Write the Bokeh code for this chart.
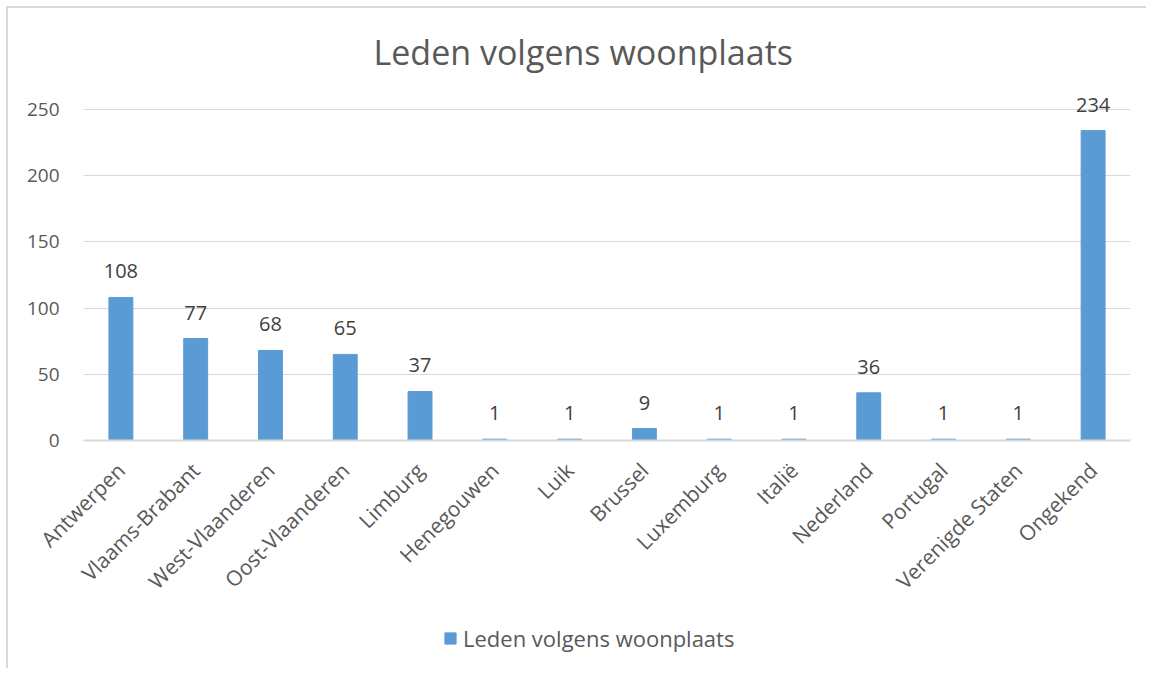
import math
from bokeh.plotting import figure
from bokeh.layouts import column
from bokeh.models import ColumnDataSource, Legend, LegendItem, FixedTicker, Range1d, FactorRange
from bokeh.core.properties import value
from bokeh.embed import file_html
from bokeh.resources import INLINE

categories = ["Antwerpen", "Vlaams-Brabant", "West-Vlaanderen", "Oost-Vlaanderen",
              "Limburg", "Henegouwen", "Luik", "Brussel", "Luxemburg", "Italië",
              "Nederland", "Portugal", "Verenigde Staten", "Ongekend"]
counts = [108, 77, 68, 65, 37, 1, 1, 9, 1, 1, 36, 1, 1, 234]
y_ticks = [0, 50, 100, 150, 200, 250]
series_name = "Leden volgens woonplaats"

FONT = "Open Sans"
BLUE = "#5B9BD5"
GRID = "#D9D9D9"
TXT = "#595959"

src = ColumnDataSource(dict(cat=categories, val=counts, lab=[str(v) for v in counts]))

p = figure(x_range=categories, y_range=Range1d(0, 262), width=1138, height=604,
           output_backend="svg", toolbar_location=None,
           title=series_name,
           min_border_left=75, min_border_right=16, min_border_top=81, min_border_bottom=172)

p.title.align = "left"
p.title.text_font = FONT
p.title.text_font_size = "34px"
p.title.text_font_style = "normal"
p.title.text_color = TXT
p.title.offset = 290
p.title.standoff = 37

r = p.vbar(x="cat", top="val", width=0.32, source=src, color=BLUE)
p.text(x="cat", y="val", text="lab", source=src, text_align="center",
       text_baseline="alphabetic", y_offset=-26, text_font=value(FONT),
       text_font_size="20px", text_color="#404040")

p.outline_line_color = None
p.xgrid.grid_line_color = None
p.ygrid.grid_line_color = GRID
p.ygrid.grid_line_width = 1
p.yaxis.ticker = FixedTicker(ticks=y_ticks)
p.yaxis.axis_line_color = None
p.yaxis.major_tick_line_color = None
p.yaxis.minor_tick_line_color = None
p.yaxis.major_label_standoff = 18
p.yaxis.major_label_text_font = FONT
p.yaxis.major_label_text_font_size = "19px"
p.yaxis.major_label_text_color = TXT

p.xaxis.axis_line_color = GRID
p.xaxis.axis_line_width = 2
p.xaxis.major_tick_line_color = None
p.xaxis.minor_tick_line_color = None
p.xaxis.major_label_orientation = math.pi / 4
p.xaxis.major_label_standoff = 20
p.xaxis.major_label_text_font = FONT
p.xaxis.major_label_text_font_size = "21px"
p.xaxis.major_label_text_color = TXT
p.x_range.range_padding = 0

# legend strip below the chart (hidden proxy renderer supplies the legend swatch)
lg = figure(width=1138, height=56, output_backend="svg", toolbar_location=None,
            x_range=FactorRange(*categories), y_range=Range1d(-1001, -1000),
            x_axis_type=None, y_axis_type=None,
            min_border_left=0, min_border_right=0, min_border_top=0, min_border_bottom=0)
lg.grid.grid_line_color = None
lg.outline_line_color = None
r2 = lg.vbar(x="cat", top="val", width=0.32, source=src, color=BLUE, visible=False)
legend = Legend(items=[LegendItem(label=series_name, renderers=[r2])],
                location=(360, 15), orientation="horizontal",
                border_line_color=None, background_fill_alpha=0,
                inactive_fill_alpha=0,
                padding=0, margin=0, glyph_width=14, glyph_height=14,
                label_standoff=6, label_text_font=FONT, label_text_font_size="22px",
                label_text_color=TXT)
lg.add_layout(legend, "center")

layout = column(p, lg, spacing=0)
layout.styles = {"border-left": "2px solid #D9D9D9", "border-top": "2px solid #D9D9D9",
                 "margin-left": "6px", "margin-top": "6px"}

open("out.html", "w").write(file_html(layout, INLINE))
